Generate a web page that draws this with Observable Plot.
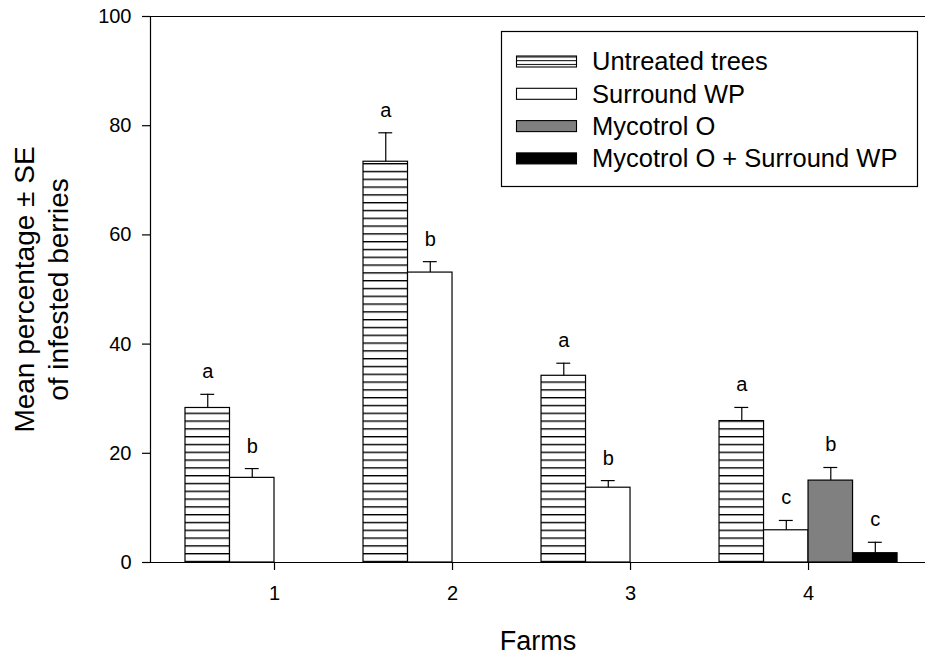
<!DOCTYPE html>
<html>
<head>
<meta charset="utf-8">
<script src="https://cdn.jsdelivr.net/npm/d3@7"></script>
<script src="https://cdn.jsdelivr.net/npm/@observablehq/plot@0.6"></script>
<style>
  body { margin: 0; background: #fff; }
  #chart svg { display: block; }
</style>
</head>
<body>
<div id="chart"></div>
<script>
// ---- data ----
const farms = [1, 2, 3, 4];
const treatments = ["Untreated trees", "Surround WP", "Mycotrol O", "Mycotrol O + Surround WP"];

const untreatedMean = [28.3, 73.4, 34.2, 25.9];
const untreatedSE   = [2.5, 5.3, 2.3, 2.5];
const untreatedLetters = ["a", "a", "a", "a"];

const surroundMean = [15.5, 53.1, 13.7, 5.9];
const surroundSE   = [1.7, 2.0, 1.3, 1.8];
const surroundLetters = ["b", "b", "b", "c"];

const mycotrolMean = [null, null, null, 15.0];
const mycotrolSE   = [null, null, null, 2.4];
const mycotrolLetters = [null, null, null, "b"];

const comboMean = [null, null, null, 1.7];
const comboSE   = [null, null, null, 2.0];
const comboLetters = [null, null, null, "c"];

const yTicks = [0, 20, 40, 60, 80, 100];

// ---- build table ----
const seriesMean = [untreatedMean, surroundMean, mycotrolMean, comboMean];
const seriesSE = [untreatedSE, surroundSE, mycotrolSE, comboSE];
const seriesLetters = [untreatedLetters, surroundLetters, mycotrolLetters, comboLetters];
const fills = ["url(#hatch)", "white", "#808080", "black"];

const rows = [];
treatments.forEach((t, k) => {
  farms.forEach((f, i) => {
    const m = seriesMean[k][i];
    if (m != null) rows.push({farm: f, slot: k, treatment: t, mean: m, se: seriesSE[k][i], top: m + seriesSE[k][i], letter: seriesLetters[k][i], fill: fills[k]});
  });
});

const slotW = 0.25;          // each bar is a quarter of a farm step
const capHalf = 0.039;       // half width of error-bar cap, in farm units
const bx1 = d => d.farm + (d.slot - 2) * slotW;
const bx2 = d => bx1(d) + slotW;
const bxc = d => bx1(d) + slotW / 2;

const xDomain = [0.3034, 4.657];
const FONT = '"Liberation Sans", Arial, Helvetica, sans-serif';

const plot = Plot.plot({
  width: 926,
  height: 658,
  marginLeft: 150,
  marginRight: 1,
  marginTop: 16,
  marginBottom: 96,
  style: {fontFamily: FONT, background: "white", color: "black", overflow: "visible"},
  x: {domain: xDomain},
  y: {domain: [0, 100]},
  color: {type: "identity"},
  marks: [
    Plot.rectY(rows, {x1: bx1, x2: bx2, y1: 0, y2: "mean", fill: "fill", stroke: "black", strokeWidth: 1.2}),
    Plot.ruleX(rows, {x: bxc, y1: "mean", y2: "top", stroke: "black", strokeWidth: 1.2}),
    Plot.ruleY(rows, {y: "top", x1: d => bxc(d) - capHalf, x2: d => bxc(d) + capHalf, stroke: "black", strokeWidth: 1.2}),
    Plot.text(rows, {x: bxc, y: "top", text: "letter", dy: -16, lineAnchor: "bottom", fontSize: 20, fill: "black"}),
    Plot.ruleY([0, 100], {stroke: "black", strokeWidth: 1.2}),
    Plot.ruleX([xDomain[0]], {stroke: "black", strokeWidth: 1.2}),
    Plot.axisY({ticks: yTicks, tickSize: 8, tickPadding: 11, fontSize: 20, label: null, strokeWidth: 1.2}),
    Plot.axisX({ticks: farms, tickSize: 8, tickPadding: 15, fontSize: 20, label: null, tickFormat: d => String(d), strokeWidth: 1.2}),
    Plot.text(["Farms"], {frameAnchor: "bottom", dy: 79, fontSize: 27, lineAnchor: "middle", textAnchor: "middle", fill: "black"}),
    Plot.text(["Mean percentage ± SE\nof infested berries"], {frameAnchor: "left", rotate: -90, dx: -110, fontSize: 28, lineHeight: 1.2, lineAnchor: "middle", textAnchor: "middle", fill: "black"})
  ]
});

// patterns for the hatched bars
const svg = d3.select(plot);
const defs = svg.insert("defs", ":first-child");
const pat = defs.append("pattern").attr("id", "hatch").attr("patternUnits", "userSpaceOnUse")
  .attr("x", 0).attr("y", 553).attr("width", 10).attr("height", 7.8);
pat.append("rect").attr("width", 10).attr("height", 7.8).attr("fill", "white");
pat.append("rect").attr("y", 0).attr("width", 10).attr("height", 1.4).attr("fill", "black");

const patL = defs.append("pattern").attr("id", "hatchLegend").attr("patternUnits", "userSpaceOnUse")
  .attr("x", 0).attr("y", 56.5).attr("width", 10).attr("height", 3.7);
patL.append("rect").attr("width", 10).attr("height", 3.7).attr("fill", "white");
patL.append("rect").attr("y", 0).attr("width", 10).attr("height", 1).attr("fill", "black");

// legend box inside plot area
const legendFills = ["url(#hatchLegend)", "white", "#808080", "black"];
const lg = svg.append("g").attr("font-family", FONT).attr("text-anchor", "start");
lg.append("rect").attr("x", 501.5).attr("y", 31.5).attr("width", 416).attr("height", 155)
  .attr("fill", "white").attr("stroke", "black").attr("stroke-width", 1.2);
treatments.forEach((t, k) => {
  const cy = 61.5 + k * 32.3;
  lg.append("rect").attr("x", 516.5).attr("y", cy - 5.5).attr("width", 60).attr("height", 11)
    .attr("fill", legendFills[k]).attr("stroke", "black").attr("stroke-width", 1.1);
  lg.append("text").attr("x", 592).attr("y", cy).attr("dy", "0.35em").attr("text-anchor", "start")
    .attr("font-size", 25.5).attr("fill", "black").text(t);
});

document.getElementById("chart").appendChild(plot);
</script>
</body>
</html>
